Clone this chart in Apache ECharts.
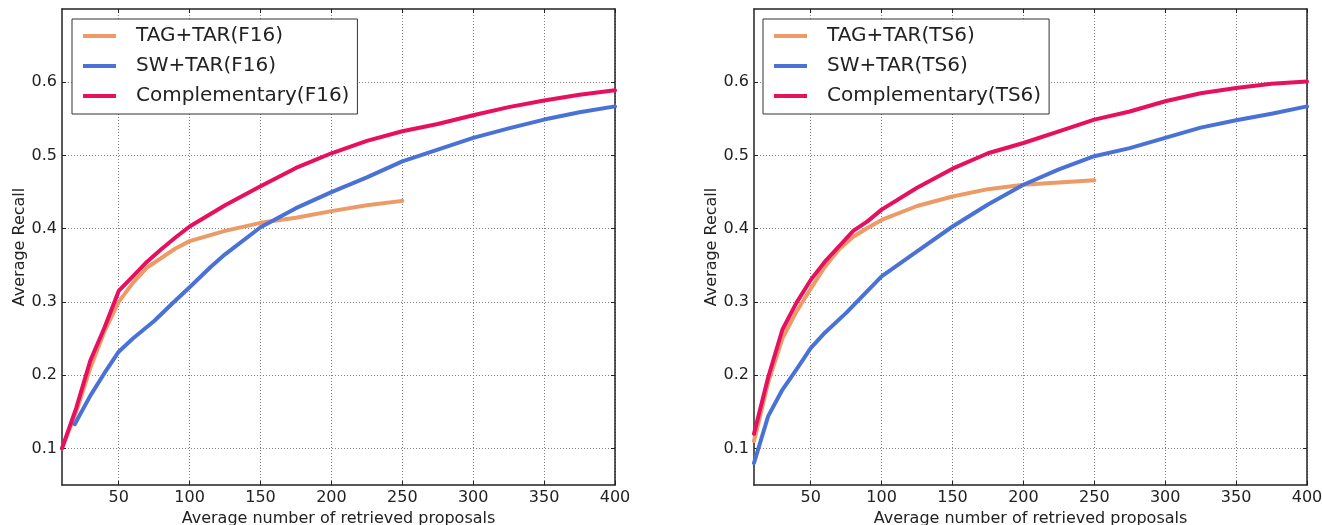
<!DOCTYPE html>
<html>
<head>
<meta charset="utf-8">
<script src="https://cdn.jsdelivr.net/npm/echarts@6/dist/echarts.min.js"></script>
<style>
html, body { margin: 0; padding: 0; background: #ffffff; }
#chart { width: 1322px; height: 525px; }
</style>
</head>
<body>
<div id="chart"></div>
<script>
// Average recall vs. average number of retrieved proposals, two datasets (F16, TS6)

// Tick positions
const xTicks = [50, 100, 150, 200, 250, 300, 350, 400];
const yTicks = [0.1, 0.2, 0.3, 0.4, 0.5, 0.6];

// F16 panel
const tagF16X = [10, 20, 30, 40, 50, 60, 70, 80, 90, 100, 125, 150, 175, 200, 225, 250];
const tagF16Y = [0.10, 0.15, 0.21, 0.26, 0.30, 0.326, 0.347, 0.36, 0.373, 0.383, 0.397, 0.408, 0.415, 0.424, 0.432, 0.438];

const swF16X = [19, 30, 40, 50, 60, 75, 90, 100, 115, 125, 150, 175, 200, 225, 250, 275, 300, 325, 350, 375, 400];
const swF16Y = [0.133, 0.172, 0.203, 0.232, 0.25, 0.274, 0.302, 0.32, 0.348, 0.365, 0.402, 0.428, 0.45, 0.47, 0.492, 0.508, 0.524, 0.537, 0.549, 0.559, 0.567];

const compF16X = [10, 20, 30, 40, 50, 60, 70, 80, 90, 100, 125, 150, 175, 200, 225, 250, 275, 300, 325, 350, 375, 400];
const compF16Y = [0.10, 0.155, 0.22, 0.265, 0.315, 0.335, 0.355, 0.372, 0.388, 0.403, 0.432, 0.458, 0.483, 0.503, 0.52, 0.533, 0.543, 0.555, 0.566, 0.575, 0.583, 0.589];

// TS6 panel
const tagTS6X = [10, 20, 30, 40, 50, 60, 70, 80, 90, 100, 125, 150, 175, 200, 225, 250];
const tagTS6Y = [0.11, 0.19, 0.25, 0.287, 0.318, 0.348, 0.372, 0.389, 0.401, 0.412, 0.431, 0.444, 0.454, 0.460, 0.463, 0.466];

const swTS6X = [10, 20, 30, 40, 50, 60, 75, 100, 125, 150, 175, 200, 225, 250, 275, 300, 325, 350, 375, 400];
const swTS6Y = [0.08, 0.144, 0.18, 0.208, 0.237, 0.258, 0.285, 0.335, 0.369, 0.403, 0.433, 0.46, 0.481, 0.499, 0.51, 0.524, 0.538, 0.548, 0.557, 0.567];

const compTS6X = [10, 20, 30, 40, 50, 60, 70, 80, 90, 100, 125, 150, 175, 200, 225, 250, 275, 300, 325, 350, 375, 400];
const compTS6Y = [0.12, 0.197, 0.262, 0.299, 0.33, 0.355, 0.376, 0.397, 0.41, 0.426, 0.456, 0.482, 0.503, 0.517, 0.533, 0.549, 0.56, 0.574, 0.585, 0.592, 0.598, 0.601];

const FONT = 'DejaVu Sans';
const ORANGE = '#EC9A66';
const BLUE = '#4A72D6';
const PINK = '#E6105F';
const INK = '#222222';

const pairs = (xs, ys) => xs.map((x, i) => [x, ys[i]]);

const tickStyle = { show: true, inside: true, length: 4, lineStyle: { color: INK, width: 1 } };
const frameLine = { show: true, onZero: false, lineStyle: { color: INK, width: 1.5 } };
const gridLine = { show: true, lineStyle: { color: '#808080', width: 1, type: [1, 2] } };

function xAxes(gi) {
  return [
    {
      type: 'value', gridIndex: gi, position: 'bottom', min: 10, max: 400,
      name: 'Average number of retrieved proposals', nameLocation: 'middle', nameGap: 24,
      nameTextStyle: { fontFamily: FONT, fontSize: 16, color: INK },
      axisLine: frameLine,
      axisTick: Object.assign({ customValues: xTicks }, tickStyle),
      axisLabel: { customValues: xTicks, fontFamily: FONT, fontSize: 16, color: INK, margin: 5 },
      splitLine: gridLine
    },
    {
      type: 'value', gridIndex: gi, position: 'top', min: 10, max: 400,
      axisLine: frameLine,
      axisTick: Object.assign({ customValues: xTicks }, tickStyle),
      axisLabel: { show: false },
      splitLine: { show: false }
    }
  ];
}

function yAxes(gi) {
  return [
    {
      type: 'value', gridIndex: gi, position: 'left', min: 0.05, max: 0.70,
      name: 'Average Recall', nameLocation: 'middle', nameGap: 34,
      nameTextStyle: { fontFamily: FONT, fontSize: 16, color: INK },
      axisLine: frameLine,
      axisTick: Object.assign({ customValues: yTicks }, tickStyle),
      axisLabel: { customValues: yTicks, fontFamily: FONT, fontSize: 16, color: INK, margin: 5,
        formatter: v => v.toFixed(1) },
      splitLine: gridLine
    },
    {
      type: 'value', gridIndex: gi, position: 'right', min: 0.05, max: 0.70,
      axisLine: frameLine,
      axisTick: Object.assign({ customValues: yTicks }, tickStyle),
      axisLabel: { show: false },
      splitLine: { show: false }
    }
  ];
}

function curve(name, color, xi, yi, data) {
  return {
    name, type: 'line', xAxisIndex: xi, yAxisIndex: yi, data,
    showSymbol: false, symbol: 'none', smooth: false, clip: true,
    lineStyle: { color, width: 4, cap: 'round', join: 'round' },
    itemStyle: { color },
    emphasis: { disabled: true },
    animation: false
  };
}

function legendFor(names, left) {
  return {
    data: names, left, top: 19, orient: 'vertical',
    icon: 'rect', itemWidth: 33, itemHeight: 4, itemGap: 8,
    padding: [6, 8, 7, 11],
    borderColor: '#333333', borderWidth: 1, borderRadius: 0,
    backgroundColor: '#ffffff',
    selectedMode: false,
    textStyle: { fontFamily: FONT, fontSize: 20, color: INK, lineHeight: 22, padding: [0, 0, 0, 15] }
  };
}

const namesF16 = ['TAG+TAR(F16)', 'SW+TAR(F16)', 'Complementary(F16)'];
const namesTS6 = ['TAG+TAR(TS6)', 'SW+TAR(TS6)', 'Complementary(TS6)'];

const option = {
  backgroundColor: '#ffffff',
  animation: false,
  textStyle: { fontFamily: FONT },
  grid: [
    { left: 62, top: 9, width: 553, height: 476, containLabel: false, outerBoundsMode: 'none' },
    { left: 754, top: 9, width: 553, height: 476, containLabel: false, outerBoundsMode: 'none' }
  ],
  xAxis: xAxes(0).concat(xAxes(1)),
  yAxis: yAxes(0).concat(yAxes(1)),
  legend: [legendFor(namesF16, 72), legendFor(namesTS6, 763)],
  series: [
    curve(namesF16[0], ORANGE, 0, 0, pairs(tagF16X, tagF16Y)),
    curve(namesF16[1], BLUE, 0, 0, pairs(swF16X, swF16Y)),
    curve(namesF16[2], PINK, 0, 0, pairs(compF16X, compF16Y)),
    curve(namesTS6[0], ORANGE, 2, 2, pairs(tagTS6X, tagTS6Y)),
    curve(namesTS6[1], BLUE, 2, 2, pairs(swTS6X, swTS6Y)),
    curve(namesTS6[2], PINK, 2, 2, pairs(compTS6X, compTS6Y))
  ]
};

const chart = echarts.init(document.getElementById('chart'), null, { renderer: 'canvas' });
chart.setOption(option);
</script>
</body>
</html>
